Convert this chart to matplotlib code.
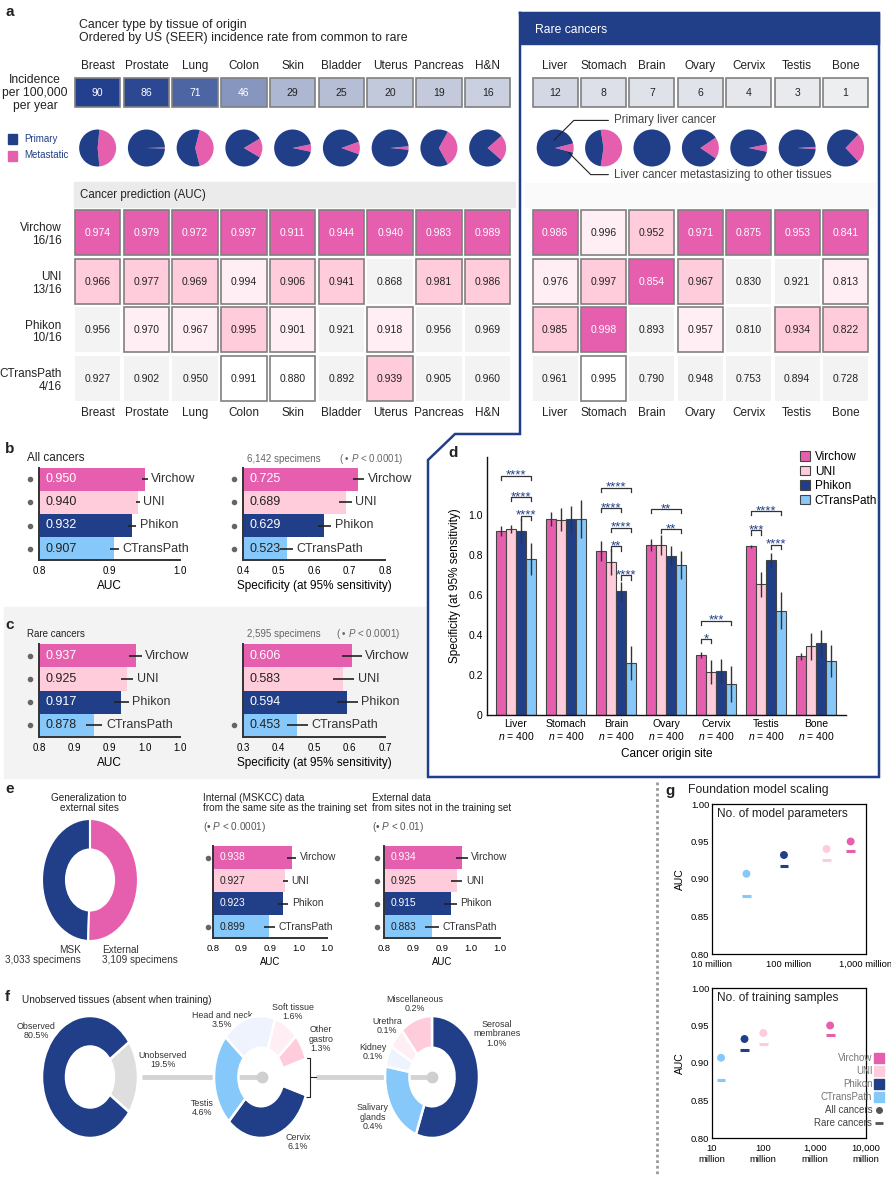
import numpy as np
import matplotlib
matplotlib.use('Agg')
import matplotlib.pyplot as plt
from matplotlib import font_manager
from matplotlib.patches import Rectangle
from matplotlib.lines import Line2D
from matplotlib.colors import LinearSegmentedColormap
from matplotlib.transforms import blended_transform_factory

plt.rcParams['font.family'] = ['Liberation Sans', 'DejaVu Sans']
plt.rcParams['mathtext.fontset'] = 'custom'
plt.rcParams['mathtext.rm'] = 'Liberation Sans'
plt.rcParams['mathtext.it'] = 'Liberation Sans:italic'

installed = {f.name for f in font_manager.fontManager.ttflist}
if 'Liberation Sans Narrow' in installed:
    NARROW, NS = ['Liberation Sans Narrow', 'DejaVu Sans'], 1.0
else:
    NARROW, NS = ['Liberation Sans', 'DejaVu Sans'], 0.85

W, H = 891, 1183

# ---------------- data ----------------
models = ['Virchow', 'UNI', 'Phikon', 'CTransPath']
model_wins = ['16/16', '13/16', '10/16', '4/16']

common = ['Breast', 'Prostate', 'Lung', 'Colon', 'Skin', 'Bladder', 'Uterus', 'Pancreas', 'H&N']
common_incidence = [90, 86, 71, 46, 29, 25, 20, 19, 16]
common_metastatic = [0.47, 0.01, 0.42, 0.17, 0.065, 0.11, 0.03, 0.34, 0.23]
common_auc = [[0.974, 0.979, 0.972, 0.997, 0.911, 0.944, 0.940, 0.983, 0.989],
              [0.966, 0.977, 0.969, 0.994, 0.906, 0.941, 0.868, 0.981, 0.986],
              [0.956, 0.970, 0.967, 0.995, 0.901, 0.921, 0.918, 0.956, 0.969],
              [0.927, 0.902, 0.950, 0.991, 0.880, 0.892, 0.939, 0.905, 0.960]]
# rank among models not significantly worse than the best (0 = significantly worse)
common_rank = [[1, 1, 1, 1, 1, 1, 1, 1, 1],
               [2, 2, 2, 3, 2, 2, 0, 2, 2],
               [0, 3, 3, 2, 3, 0, 3, 0, 0],
               [0, 0, 0, 4, 4, 0, 2, 0, 0]]

rare = ['Liver', 'Stomach', 'Brain', 'Ovary', 'Cervix', 'Testis', 'Bone']
rare_incidence = [12, 8, 7, 6, 4, 3, 1]
rare_metastatic = [0.08, 0.55, 0.0, 0.19, 0.065, 0.02, 0.26]
rare_auc = [[0.986, 0.996, 0.952, 0.971, 0.875, 0.953, 0.841],
            [0.976, 0.997, 0.854, 0.967, 0.830, 0.921, 0.813],
            [0.985, 0.998, 0.893, 0.957, 0.810, 0.934, 0.822],
            [0.961, 0.995, 0.790, 0.948, 0.753, 0.894, 0.728]]
rare_rank = [[1, 3, 2, 1, 1, 1, 1],
             [3, 2, 1, 2, 0, 0, 3],
             [2, 1, 0, 3, 0, 2, 2],
             [0, 4, 0, 0, 0, 0, 0]]

# panel b / c
all_auc = [0.950, 0.940, 0.932, 0.907]
all_auc_ci = [0.004, 0.003, 0.006, 0.007]
all_auc_sig = [1, 1, 1, 1]
all_spec = [0.725, 0.689, 0.629, 0.523]
all_spec_ci = [0.016, 0.018, 0.019, 0.018]
all_spec_sig = [1, 1, 1, 1]
rare_auc_all = [0.937, 0.925, 0.917, 0.878]
rare_auc_ci = [0.009, 0.009, 0.010, 0.012]
rare_auc_sig = [1, 1, 1, 1]
rare_spec = [0.606, 0.583, 0.594, 0.453]
rare_spec_ci = [0.028, 0.030, 0.030, 0.030]
rare_spec_sig = [0, 0, 0, 1]
auc_ticks_b = [0.8, 0.9, 1.0]
auc_ticks_fine = [0.8, 0.85, 0.9, 0.95, 1.0]
auc_ticklabels_fine = ['0.8', '0.9', '0.9', '1.0', '1.0']

# panel d
d_spec = [[0.92, 0.98, 0.82, 0.85, 0.30, 0.843, 0.293],
          [0.93, 0.977, 0.763, 0.85, 0.215, 0.653, 0.343],
          [0.92, 0.98, 0.618, 0.795, 0.22, 0.773, 0.358],
          [0.78, 0.98, 0.26, 0.75, 0.155, 0.522, 0.27]]
d_err = [[0.027, 0.036, 0.05, 0.03, 0.017, 0.008, 0.017],
         [0.02, 0.058, 0.065, 0.05, 0.062, 0.062, 0.067],
         [0.067, 0.065, 0.048, 0.048, 0.06, 0.036, 0.068],
         [0.08, 0.095, 0.085, 0.07, 0.09, 0.093, 0.08]]
d_n = [400, 400, 400, 400, 400, 400, 400]
# (site, model a, model b, height, stars)
d_sig = [(0, 0, 3, 1.197, '****'), (0, 1, 3, 1.09, '****'), (0, 2, 3, 0.997, '****'),
         (2, 0, 3, 1.137, '****'), (2, 0, 2, 1.035, '****'), (2, 1, 3, 0.937, '****'),
         (2, 1, 2, 0.843, '**'), (2, 2, 3, 0.698, '****'),
         (3, 0, 3, 1.03, '**'), (3, 1, 3, 0.93, '**'),
         (4, 0, 3, 0.472, '***'), (4, 0, 1, 0.38, '*'),
         (5, 0, 3, 1.02, '****'), (5, 0, 1, 0.923, '***'), (5, 2, 3, 0.852, '****')]

# panel e
gen_sites = ['MSK', 'External']
gen_counts = [3033, 3109]
int_auc = [0.938, 0.927, 0.923, 0.899]
int_ci = [0.008, 0.005, 0.009, 0.009]
int_sig = [1, 0, 0, 1]
ext_auc = [0.934, 0.925, 0.915, 0.883]
ext_ci = [0.010, 0.010, 0.011, 0.012]
ext_sig = [1, 1, 1, 1]

# panel f
obs_labels = ['Observed', 'Unobserved']
obs_pct = [80.5, 19.5]
unobs_labels = ['Cervix', 'Testis', 'Head and neck', 'Soft tissue', 'Other\ngastro']
unobs_pct = [6.1, 4.6, 3.5, 1.6, 1.3]
other_labels = ['Serosal\nmembranes', 'Salivary\nglands', 'Kidney', 'Urethra', 'Miscellaneous']
other_pct = [1.0, 0.4, 0.1, 0.1, 0.2]

# panel g
n_params = [632e6, 307e6, 86e6, 28e6]
n_samples = [2e9, 100e6, 43e6, 15e6]

# ---------------- style ----------------
VIR, UNIc, PHI, CTP = '#E65FAF', '#FFCCDB', '#213F88', '#86C8FA'
mcol = [VIR, UNIc, PHI, CTP]
NAVY = '#213F88'
rank_col = {1: VIR, 2: UNIc, 3: '#FFEEF3', 4: 'white', 0: '#F3F3F3'}
inc_cmap = LinearSegmentedColormap.from_list('inc', ['#EFEFF1', '#23408E'])
DARK = '#222222'

fig = plt.figure(figsize=(W / 100, H / 100), dpi=100)

bg = fig.add_axes([0, 0, 1, 1], zorder=0)
bg.set_xlim(0, W)
bg.set_ylim(H, 0)
bg.axis('off')


def axpx(x0, y0, x1, y1, z=1):
    ax = fig.add_axes([x0 / W, 1 - y1 / H, (x1 - x0) / W, (y1 - y0) / H], zorder=z)
    ax.patch.set_alpha(0)
    return ax


def txt(x, y, s, **kw):
    kw.setdefault('fontsize', 8)
    kw.setdefault('va', 'center')
    kw.setdefault('color', DARK)
    bg.text(x, y, s, **kw)


def clean(ax):
    for s in ax.spines.values():
        s.set_visible(False)
    ax.set_xticks([])
    ax.set_yticks([])


# ---------------- panel a ----------------
txt(5, 12, 'a', fontsize=11, fontweight='bold')
txt(79, 25, 'Cancer type by tissue of origin', fontsize=8.9)
txt(79, 38, 'Ordered by US (SEER) incidence rate from common to rare', fontsize=8.9)
txt(35, 93, 'Incidence\nper 100,000\nper year', fontsize=8.7, ha='center', linespacing=1.15)

# rare cancers frame
bg.plot([520, 879, 879, 428, 428, 455, 520, 520], [13, 13, 777, 777, 460, 434, 434, 13],
        color=NAVY, lw=1.8, solid_joinstyle='miter')
bg.add_patch(Rectangle((520, 13), 359, 31, color=NAVY))
txt(535, 30, 'Rare cancers', fontsize=8.7, color='white')
bg.add_patch(Rectangle((74, 182), 441, 25, color='#EBEBEB'))
bg.add_patch(Rectangle((525, 183), 350, 24, color='#FAFAFA'))
txt(80, 195, 'Cancer prediction (AUC)', fontsize=8.3)

# pie legend
bg.add_patch(Rectangle((8, 134), 9, 10, color=NAVY))
bg.add_patch(Rectangle((8, 151), 9, 10, color=VIR))
txt(24, 139, 'Primary', fontsize=7, color=NAVY)
txt(24, 155, 'Metastatic', fontsize=7, color=NAVY)


def panel_a(x0, pitch, names, inc, met, auc, rank, row_labels):
    n = len(names)
    x1 = x0 + n * pitch
    # incidence boxes
    ax = axpx(x0, 77, x1, 108)
    ax.set_xlim(0, n)
    ax.set_ylim(0, 1)
    for j, v in enumerate(inc):
        ax.add_patch(Rectangle((j + 0.02, 0.03), 0.93, 0.94, fc=inc_cmap(v / 90),
                               ec='#808080', lw=1.2))
        ax.text(j + 0.485, 0.5, str(v), ha='center', va='center', fontsize=7.5,
                color='white' if v > 40 else DARK)
    clean(ax)
    ax.xaxis.tick_top()
    ax.set_xticks(np.arange(n) + 0.485)
    ax.set_xticklabels(names, fontsize=8.5, color=DARK)
    ax.tick_params(axis='x', length=0, pad=3.5)

    # pies
    pax = axpx(x0, 128, x1, 168)
    r = 18.5 / pitch
    for j, m in enumerate(met):
        pax.pie([m, 1 - m], colors=[VIR, NAVY], startangle=-m * 180, counterclock=True,
                center=(j + 0.485, 0), radius=r, frame=True,
                wedgeprops=dict(linewidth=0))
    pax.set_xlim(0, n)
    pax.set_ylim(-20 / pitch, 20 / pitch)
    pax.set_aspect('auto')
    clean(pax)

    # AUC heatmap
    hax = axpx(x0, 209, x1, 209 + 4 * 48.7)
    hax.set_xlim(0, n)
    hax.set_ylim(4, 0)
    for i in range(4):
        for j in range(n):
            k = rank[i][j]
            hax.add_patch(Rectangle((j + 0.02, i + 0.02), 0.93, 0.925, fc=rank_col[k],
                                    ec='#808080' if k else 'none', lw=1.2))
            hax.text(j + 0.485, i + 0.49, f'{auc[i][j]:.3f}', ha='center', va='center',
                     fontsize=7.5, color='white' if k == 1 else DARK)
    clean(hax)
    hax.set_xticks(np.arange(n) + 0.485)
    hax.set_xticklabels(names, fontsize=8.5, color=DARK)
    hax.tick_params(axis='x', length=0, pad=2.5)
    if row_labels:
        hax.set_yticks(np.arange(4) + 0.49)
        hax.set_yticklabels([f'{a}\n{b}' for a, b in zip(models, model_wins)],
                            fontsize=8.5, color=DARK, linespacing=1.05)
        hax.tick_params(axis='y', length=0, pad=9)
    return pax


panel_a(74, 48.75, common, common_incidence, common_metastatic, common_auc, common_rank, True)
pax_r = panel_a(531.7, 48.4, rare, rare_incidence, rare_metastatic, rare_auc, rare_rank, False)
pax_r.annotate('Primary liver cancer', xy=(0.42, 0.12), xytext=(1.7, 0.57),
               fontsize=8.3, color='#444', va='center',
               arrowprops=dict(arrowstyle='-', color=DARK, lw=0.8,
                               connectionstyle='angle,angleA=0,angleB=45,rad=0'))
pax_r.annotate('Liver cancer metastasizing to other tissues', xy=(0.72, -0.05),
               xytext=(1.7, -0.55), fontsize=8.3, color='#444', va='center',
               arrowprops=dict(arrowstyle='-', color=DARK, lw=0.8,
                               connectionstyle='angle,angleA=0,angleB=-45,rad=0'))


# ---------------- horizontal bar panels ----------------
def hbars(rect, vals, ci, sig, lo, hi, ticks, ticklabels, xlabel, fs=9, tfs=7, dotx=-9,
          family=None):
    fam = {} if family is None else {'family': family}
    ax = axpx(*rect)
    y = np.arange(len(vals))
    v = np.array(vals)
    ax.barh(y, v - lo, left=lo, height=1.0, color=mcol, zorder=1)
    ax.errorbar(v, y, xerr=ci, fmt='none', ecolor=DARK, elinewidth=1.2, capsize=0, zorder=2)
    for i in range(len(vals)):
        ax.annotate(f'{vals[i]:.3f}', (lo, i), xytext=(4.5, 0), textcoords='offset points',
                    va='center', fontsize=fs, color='white' if i in (0, 2) else DARK, **fam)
        ax.annotate(models[i], (vals[i] + ci[i], i), xytext=(2.5, 0), textcoords='offset points',
                    va='center', fontsize=fs, color='#333', **fam)
    tr = blended_transform_factory(ax.transAxes, ax.transData)
    dx = dotx / (rect[2] - rect[0])
    for i, s in enumerate(sig):
        if s:
            ax.plot([dx], [i], 'o', color='#666', ms=3, transform=tr, clip_on=False)
    ax.set_xlim(lo, hi)
    ax.set_ylim(len(vals) - 0.5, -0.5)
    for s in ['top', 'right']:
        ax.spines[s].set_visible(False)
    for s in ['left', 'bottom']:
        ax.spines[s].set_linewidth(1.4)
        ax.spines[s].set_color('#333')
    ax.set_yticks([])
    ax.set_xticks(ticks)
    ax.set_xticklabels(ticklabels, fontsize=tfs, **fam)
    ax.tick_params(axis='x', length=0, pad=4)
    ax.set_xlabel(xlabel, fontsize=fs - 0.5, labelpad=3, **fam)
    return ax


# panel b
txt(5, 449, 'b', fontsize=11, fontweight='bold')
txt(27, 458, 'All cancers', fontsize=8.5)
txt(247, 459, '6,142 specimens', fontsize=7, color='#666')
txt(339, 459, '( \u2022 $P$ < 0.0001)', fontsize=7, color='#666')
hbars((39, 468, 180, 560), all_auc, all_auc_ci, all_auc_sig, 0.8, 1.0, auc_ticks_b,
      [f'{t:.1f}' for t in auc_ticks_b], 'AUC')
spec_ticks_b = [0.4, 0.5, 0.6, 0.7, 0.8]
hbars((243, 468, 385, 560), all_spec, all_spec_ci, all_spec_sig, 0.4, 0.8, spec_ticks_b,
      [f'{t:.1f}' for t in spec_ticks_b], 'Specificity (at 95% sensitivity)')

# panel c
bg.add_patch(Rectangle((4, 607), 421, 171, color='#F3F3F3', zorder=0))
txt(5, 625, 'c', fontsize=11, fontweight='bold')
txt(27, 634, 'Rare cancers', fontsize=7)
txt(247, 634, '2,595 specimens', fontsize=7, color='#666')
txt(336, 634, '( \u2022 $P$ < 0.0001)', fontsize=7, color='#666')
hbars((39, 644, 180, 737), rare_auc_all, rare_auc_ci, rare_auc_sig, 0.8, 1.0, auc_ticks_fine,
      auc_ticklabels_fine, 'AUC')
spec_ticks_c = [0.3, 0.4, 0.5, 0.6, 0.7]
hbars((243, 644, 385, 737), rare_spec, rare_spec_ci, rare_spec_sig, 0.3, 0.7, spec_ticks_c,
      [f'{t:.1f}' for t in spec_ticks_c], 'Specificity (at 95% sensitivity)')

# ---------------- panel d ----------------
txt(448, 453, 'd', fontsize=11, fontweight='bold')
ax = axpx(487, 457, 846, 715)
xs = np.arange(len(rare))
offs = [-0.3, -0.1, 0.1, 0.3]
for k in range(4):
    ax.bar(xs + offs[k], d_spec[k], width=0.2, color=mcol[k], edgecolor='#444', lw=0.8,
           label=models[k], zorder=2)
    ax.errorbar(xs + offs[k], d_spec[k], yerr=d_err[k], fmt='none', ecolor='#333',
                elinewidth=1.0, capsize=0, zorder=3)
for site, a, b, h, stars in d_sig:
    xa, xb = site + offs[a], site + offs[b]
    ax.plot([xa, xa, xb, xb], [h - 0.022, h, h, h - 0.022], color='#333', lw=0.9, zorder=3)
    ax.text((xa + xb) / 2, h - 0.016, stars, ha='center', va='baseline', fontsize=9.5,
            color=NAVY)
ax.set_xlim(-0.58, 6.6)
ax.set_ylim(0, 1.29)
for s in ['top', 'right']:
    ax.spines[s].set_visible(False)
for s in ['left', 'bottom']:
    ax.spines[s].set_linewidth(1.0)
    ax.spines[s].set_color('#111')
ax.set_yticks([0, 0.2, 0.4, 0.6, 0.8, 1.0])
ax.set_yticklabels(['0', '0.2', '0.4', '0.6', '0.8', '1.0'], fontsize=7.5)
ax.set_xticks(xs)
ax.set_xticklabels([f'{s}\n$n$ = {n}' for s, n in zip(rare, d_n)], fontsize=7.5,
                   linespacing=1.1)
ax.tick_params(length=0, pad=3)
ax.set_ylabel('Specificity (at 95% sensitivity)', fontsize=8.5, labelpad=5)
ax.set_xlabel('Cancer origin site', fontsize=8.5, labelpad=4)
leg = ax.legend(loc='upper left', bbox_to_anchor=(800 / W, 1 - 451 / H),
                bbox_transform=fig.transFigure, frameon=False, fontsize=8.5,
                handlelength=0.85, handleheight=0.85, handletextpad=0.4,
                labelspacing=0.22, borderpad=0, borderaxespad=0)

# ---------------- panel e ----------------
txt(5, 789, 'e', fontsize=11, fontweight='bold')
txt(89, 803, 'Generalization to\nexternal sites', fontsize=8.5 * NS, ha='center',
    linespacing=1.1, family=NARROW)
dax = axpx(42, 819, 138, 941)
dax.pie(gen_counts, colors=[PHI, VIR], startangle=90, counterclock=True, radius=1,
        frame=True, wedgeprops=dict(width=0.5, edgecolor='white', linewidth=1.5))
dax.set_xlim(-1, 1)
dax.set_ylim(-1, 1)
dax.set_aspect('auto')
clean(dax)
txt(81, 955, f'{gen_sites[0]}\n{gen_counts[0]:,} specimens', fontsize=8.5 * NS, ha='right',
    multialignment='right', linespacing=1.1, color='#333', family=NARROW)
txt(102, 955, f'{gen_sites[1]}\n{gen_counts[1]:,} specimens', fontsize=8.5 * NS, ha='left',
    linespacing=1.1, color='#333', family=NARROW)

txt(203, 803, 'Internal (MSKCC) data\nfrom the same site as the training set',
    fontsize=8.5 * NS, linespacing=1.1, family=NARROW)
txt(203, 827, '(\u2022 $P$ < 0.0001)', fontsize=8.5 * NS, color='#555', family=NARROW)
hbars((213, 846, 327, 938), int_auc, int_ci, int_sig, 0.8, 1.0, auc_ticks_fine,
      auc_ticklabels_fine, 'AUC', fs=8.7 * NS, tfs=7.8 * NS, dotx=-5, family=NARROW)
txt(372, 803, 'External data\nfrom sites not in the training set', fontsize=8.5 * NS,
    linespacing=1.1, family=NARROW)
txt(372, 827, '(\u2022 $P$ < 0.01)', fontsize=8.5 * NS, color='#555', family=NARROW)
hbars((384, 846, 500, 938), ext_auc, ext_ci, ext_sig, 0.8, 1.0, auc_ticks_fine,
      auc_ticklabels_fine, 'AUC', fs=8.7 * NS, tfs=7.8 * NS, dotx=-7, family=NARROW)

# ---------------- panel f ----------------
txt(5, 997, 'f', fontsize=11, fontweight='bold')
txt(22, 1000, 'Unobserved tissues (absent when training)', fontsize=8.5 * NS, family=NARROW)
# connectors
bg.plot([142, 262], [1077, 1077], color='#D3D3D3', lw=3.5, solid_capstyle='butt')
bg.plot([316, 432], [1077, 1077], color='#D3D3D3', lw=3.5, solid_capstyle='butt')
bg.plot([262, 432], [1077, 1077], 'o', color='#CFCFCF', ms=7.5)
bg.plot([306, 310, 310, 306], [1058, 1058, 1097, 1097], color=DARK, lw=0.8)
bg.plot([310, 316], [1077, 1077], color=DARK, lw=0.8)


def donut(rect, vals, colors, start, ccw, width=0.5):
    a = axpx(*rect, z=2)
    a.pie(vals, colors=colors, startangle=start, counterclock=ccw, radius=1, frame=True,
          wedgeprops=dict(width=width, edgecolor='white', linewidth=1.8))
    a.set_xlim(-1, 1)
    a.set_ylim(-1, 1)
    a.set_aspect('auto')
    clean(a)
    return a


donut((42, 1016, 138, 1138), obs_pct[::-1], ['#DEDEDE', PHI], -obs_pct[1] * 1.8, True)
hidden = sum(other_pct)
donut((214, 1016, 308, 1138), unobs_pct + [hidden],
      [PHI, CTP, '#EEF3FD', '#FFEEF3', UNIc, 'none'],
      -hidden / (sum(unobs_pct) + hidden) * 180, False, width=0.52)
donut((385, 1016, 479, 1138), other_pct, [PHI, CTP, '#EEF3FD', '#FFEEF3', UNIc], 90, False,
      width=0.52)

fs_f = 7.5 * NS
ff = dict(fontsize=fs_f, ha='center', color='#333', family=NARROW, linespacing=1.1)
txt(36, 1031, f'{obs_labels[0]}\n{obs_pct[0]}%', **ff)
txt(163, 1060, f'{obs_labels[1]}\n{obs_pct[1]}%', **ff)
pos2 = [(298, 1142), (202, 1108), (222, 1020), (293, 1012), (321, 1039)]
for (x, y), lab, p in zip(pos2, unobs_labels, unobs_pct):
    txt(x, y, f'{lab}\n{p}%', **ff)
pos3 = [(497, 1034), (373, 1117), (373, 1052), (387, 1026), (415, 1004)]
for (x, y), lab, p in zip(pos3, other_labels, other_pct):
    txt(x, y, f'{lab}\n{p}%', **ff)

# ---------------- panel g ----------------
bg.plot([657, 657], [782, 1175], color='#999', lw=2, ls=(0, (1, 1)))
txt(665, 791, 'g', fontsize=11, fontweight='bold')
txt(688, 790, 'Foundation model scaling', fontsize=8.8)
all_auc_g = all_auc
rare_auc_g = rare_auc_all


def scaling(rect, xvals, xlim, ticks, ticklabels, title):
    a = axpx(*rect)
    a.scatter(xvals, all_auc_g, color=mcol, s=22, zorder=3)
    a.scatter(xvals, rare_auc_g, color=mcol, marker='_', s=40, linewidths=2.2, zorder=3)
    a.set_xscale('log')
    a.set_xlim(*xlim)
    a.set_ylim(0.8, 1.0)
    a.set_xticks(ticks)
    a.set_xticklabels(ticklabels, fontsize=6.8, linespacing=1.3)
    a.minorticks_off()
    a.set_yticks([0.8, 0.85, 0.9, 0.95, 1.0])
    a.set_yticklabels(['0.80', '0.85', '0.90', '0.95', '1.00'], fontsize=6.8)
    a.tick_params(axis='y', length=0, pad=2)
    a.tick_params(axis='x', length=0, pad=4)
    for s in a.spines.values():
        s.set_linewidth(0.9)
    a.set_ylabel('AUC', fontsize=7.5, labelpad=4)
    a.text(0.03, 0.975, title, transform=a.transAxes, va='top', fontsize=8.6, color=DARK)
    return a


scaling((712, 804, 866, 954), n_params, (1e7, 1e9), [1e7, 1e8, 1e9],
        ['10 million', '100 million', '1,000 million'], 'No. of model parameters')
gb = scaling((712, 988, 866, 1138), n_samples, (1e7, 1e10), [1e7, 1e8, 1e9, 1e10],
             ['10\nmillion', '100\nmillion', '1,000\nmillion', '10,000\nmillion'],
             'No. of training samples')
handles = [Line2D([], [], marker='s', ls='', color=c, ms=7) for c in mcol]
handles += [Line2D([], [], marker='o', ls='', color='#555', ms=4),
            Line2D([], [], marker='_', ls='', color='#555', ms=6, mew=2)]
labels = models + ['All cancers', 'Rare cancers']
lg = gb.legend(handles, labels, loc='lower right', bbox_to_anchor=(883 / W, 1 - 1128 / H),
               bbox_transform=fig.transFigure, frameon=False, markerfirst=False,
               fontsize=7, handlelength=0.8, handletextpad=0.3, labelspacing=0.3,
               borderpad=0, borderaxespad=0)
for t in lg.get_texts()[:4]:
    t.set_color('#777')
for t in lg.get_texts()[4:]:
    t.set_color('#444')

fig.savefig('out.png', dpi=100)
